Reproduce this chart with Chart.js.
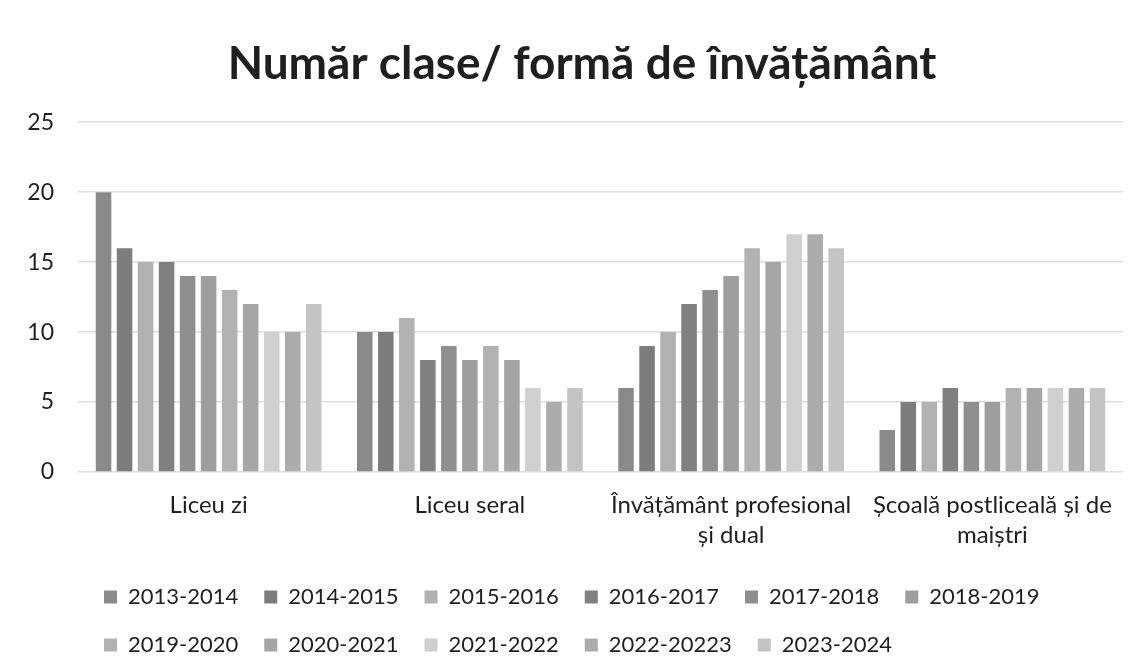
<!DOCTYPE html>
<html>
<head>
<meta charset="utf-8">
<script src="https://cdn.jsdelivr.net/npm/chart.js@4/dist/chart.umd.min.js"></script>
<style>
  html, body { margin: 0; padding: 0; background: #fff; }
  #wrap { width: 1141px; height: 672px; }
</style>
</head>
<body>
<div id="wrap"><canvas id="chart" width="1141" height="672"></canvas></div>
<script>
const categories = [
  'Liceu zi',
  'Liceu seral',
  ['Învățământ profesional', 'și dual'],
  ['Școală postliceală și de', 'maiștri'],
];
const years = [
  '2013-2014', '2014-2015', '2015-2016', '2016-2017', '2017-2018', '2018-2019',
  '2019-2020', '2020-2021', '2021-2022', '2022-20223', '2023-2024',
];
// one row per school year: Liceu zi, Liceu seral, profesional, postliceala
const values = [
  [20, 10, 6, 3],
  [16, 10, 9, 5],
  [15, 11, 10, 5],
  [15, 8, 12, 6],
  [14, 9, 13, 5],
  [14, 8, 14, 5],
  [13, 9, 16, 6],
  [12, 8, 15, 6],
  [10, 6, 17, 6],
  [10, 5, 17, 6],
  [12, 6, 16, 6],
];
const colors = [
  '#8a8a8a', '#7d7d7d', '#b1b1b1', '#808080', '#8f8f8f', '#9e9e9e',
  '#b2b2b2', '#a6a6a6', '#cfcfcf', '#acacac', '#c4c4c4',
];
const yTicks = [0, 5, 10, 15, 20, 25];

const font = 'Lato, "Open Sans", sans-serif';
const ink = '#1f1f1f';

// the left padding only recentres the title; give the y labels the full margin back
const yLabelRoom = {
  id: 'yLabelRoom',
  afterLayout(chart) {
    chart.scales.y.left = 0;
  },
};

new Chart(document.getElementById('chart'), {
  type: 'bar',
  data: {
    labels: categories,
    datasets: years.map((year, i) => ({
      label: year,
      data: values[i],
      backgroundColor: colors[i],
      barPercentage: 0.74,
      categoryPercentage: 0.885,
    })),
  },
  plugins: [yLabelRoom],
  options: {
    responsive: false,
    animation: false,
    layout: { padding: { left: 41, right: 18, top: 0, bottom: 6 } },
    plugins: {
      title: {
        display: true,
        text: 'Număr clase/ formă de învățământ',
        color: ink,
        font: { family: font, size: 46, weight: 'bold', lineHeight: 1.2 },
        padding: { top: 37, bottom: 30 },
      },
      legend: {
        position: 'bottom',
        align: 'start',
        fullSize: false,
        labels: {
          color: ink,
          font: { family: font, size: 22 },
          boxWidth: 13,
          boxHeight: 13,
          padding: 26,
        },
      },
      tooltip: { enabled: false },
    },
    scales: {
      x: {
        afterFit: (axis) => { axis.height = 88; },
        grid: { display: false, drawTicks: false },
        border: { display: false },
        ticks: {
          color: ink,
          font: { family: font, size: 24, lineHeight: 1.25 },
          maxRotation: 0,
          autoSkip: false,
          padding: 18,
        },
      },
      y: {
        min: 0,
        max: 25,
        afterBuildTicks: (axis) => { axis.ticks = yTicks.map((v) => ({ value: v })); },
        afterFit: (axis) => { axis.width = 37; },
        grid: { color: '#dedede', lineWidth: 1.5, drawTicks: false },
        border: { display: false },
        ticks: { color: ink, font: { family: font, size: 23 }, padding: 24 },
      },
    },
  },
});
</script>
</body>
</html>
